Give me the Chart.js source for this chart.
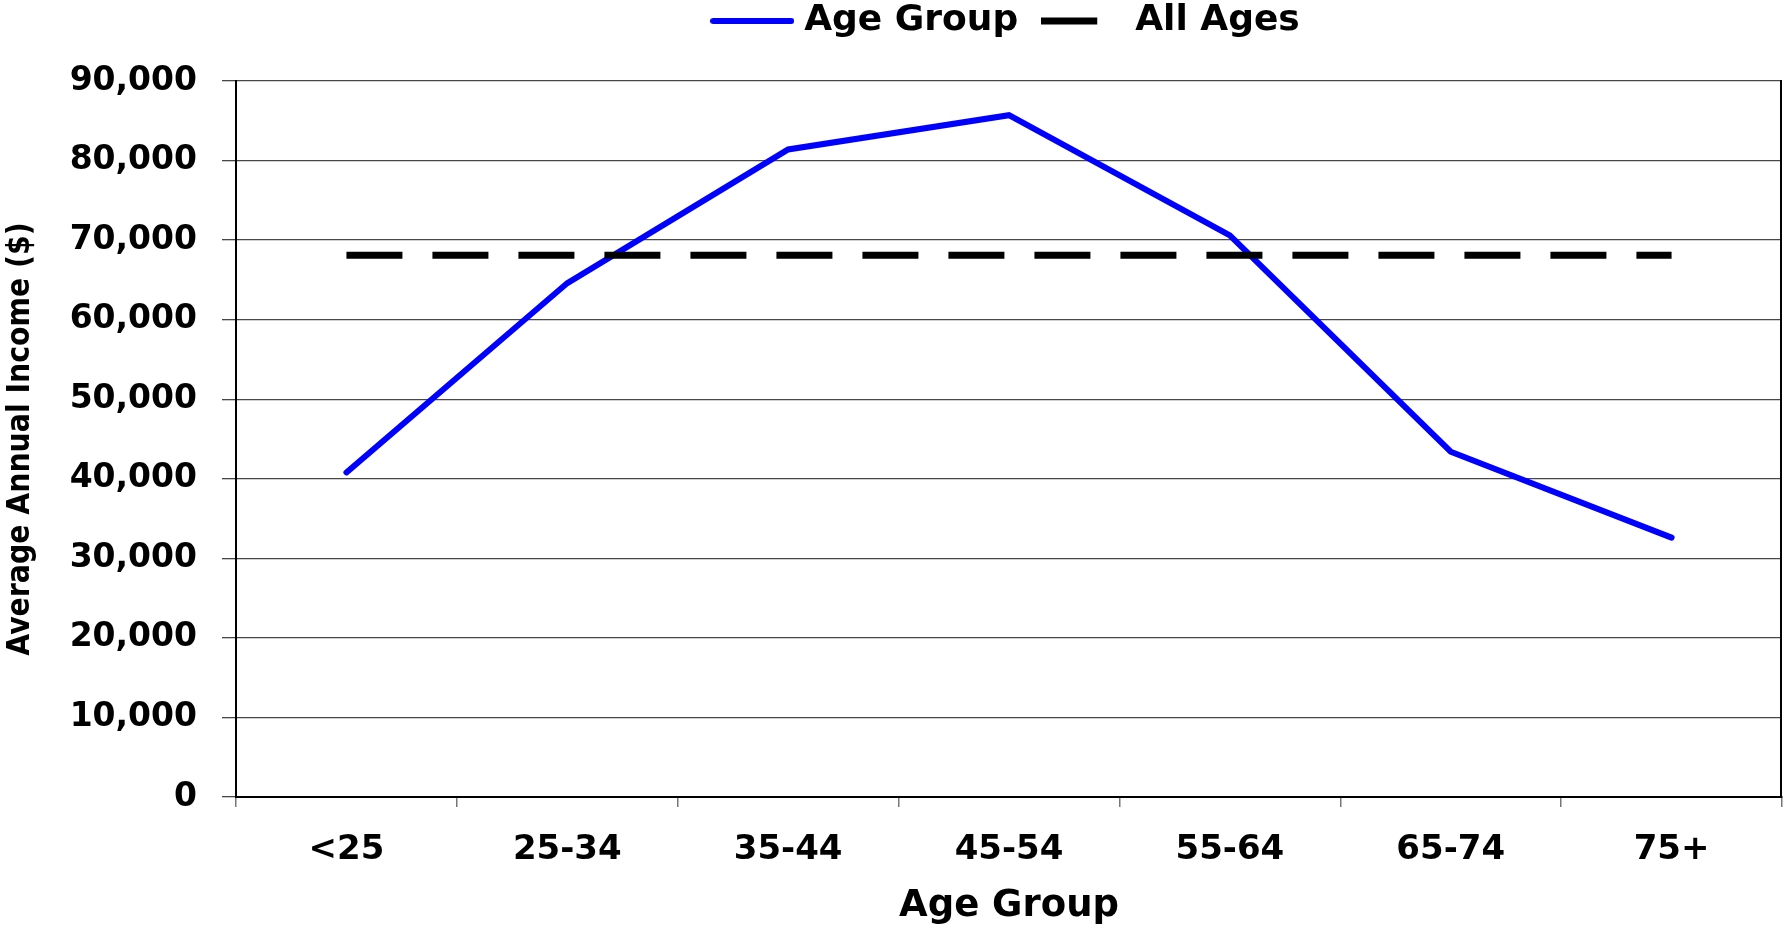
<!DOCTYPE html>
<html>
<head>
<meta charset="utf-8">
<title>Average Annual Income by Age Group</title>
<script src="https://cdn.jsdelivr.net/npm/chart.js@4.4.1/dist/chart.umd.min.js"></script>
<style>
  html, body { margin: 0; padding: 0; background: #ffffff; }
  canvas { display: block; }
</style>
</head>
<body>
<canvas id="incomeChart" width="1786" height="930"></canvas>
<script>
// Age brackets along the x axis
const categories = ['<25', '25-34', '35-44', '45-54', '55-64', '65-74', '75+'];

// Average annual income ($) for each age bracket
const ageGroupIncome = [40800, 64600, 81400, 85700, 70600, 43400, 32600];

// Average annual income ($) across all ages, repeated per bracket
const allAgesIncome = [68100, 68100, 68100, 68100, 68100, 68100, 68100];

// Y axis tick labels
const yTickLabels = ['0', '10,000', '20,000', '30,000', '40,000', '50,000',
                     '60,000', '70,000', '80,000', '90,000'];

const FONT_FAMILY = "'DejaVu Sans', 'Liberation Sans', sans-serif";
const NARROW_FAMILY = "'DejaVu Sans Condensed', 'Liberation Sans Narrow', 'DejaVu Sans', sans-serif";
const GRID_COLOR = '#474747';
const LEGEND_HEIGHT = 109;
const AGE_DASH = [56, 30];

// Small line swatches used as legend markers (solid blue, dashed black)
function lineSwatch(color, lineWidth, dash, cap) {
  const c = document.createElement('canvas');
  c.width = 84;
  c.height = 10;
  const g = c.getContext('2d');
  const inset = cap === 'round' ? lineWidth / 2 : 0;
  g.strokeStyle = color;
  g.lineWidth = lineWidth;
  g.lineCap = cap;
  g.setLineDash(dash);
  g.beginPath();
  g.moveTo(inset, 5);
  g.lineTo(c.width - inset, 5);
  g.stroke();
  return c;
}

// Fixed legend band height plus a closing frame line on the right of the plot
const plotFrame = {
  id: 'plotFrame',
  beforeInit(chart) {
    const legend = chart.legend;
    if (legend) {
      const fit = legend.fit;
      legend.fit = function () {
        fit.call(this);
        this.height = LEGEND_HEIGHT;
      };
    }
  },
  afterDraw(chart) {
    const { ctx, chartArea } = chart;
    ctx.save();
    ctx.strokeStyle = '#000000';
    ctx.lineWidth = 2;
    ctx.beginPath();
    ctx.moveTo(chartArea.right - 1, chartArea.top - 1);
    ctx.lineTo(chartArea.right - 1, chartArea.bottom + 1);
    ctx.stroke();
    ctx.restore();
  }
};

new Chart(document.getElementById('incomeChart'), {
  type: 'line',
  data: {
    labels: categories,
    datasets: [
      {
        label: 'Age Group',
        data: ageGroupIncome,
        borderColor: '#0000ff',
        backgroundColor: '#0000ff',
        borderWidth: 6,
        borderCapStyle: 'round',
        borderJoinStyle: 'miter',
        pointStyle: lineSwatch('#0000ff', 6, [], 'round'),
        pointRadius: 0,
        pointHoverRadius: 0,
        tension: 0,
        fill: false,
        order: 1
      },
      {
        label: 'All Ages',
        data: allAgesIncome,
        borderColor: '#000000',
        backgroundColor: '#000000',
        borderWidth: 7,
        borderDash: AGE_DASH,
        borderCapStyle: 'butt',
        pointStyle: lineSwatch('#000000', 7, AGE_DASH, 'butt'),
        pointRadius: 0,
        pointHoverRadius: 0,
        tension: 0,
        fill: false,
        order: 0
      }
    ]
  },
  options: {
    responsive: false,
    animation: false,
    devicePixelRatio: 1,
    layout: { padding: { top: -28, right: 4, bottom: 0, left: 0 } },
    plugins: {
      tooltip: { enabled: false },
      legend: {
        display: true,
        position: 'top',
        align: 'center',
        fullSize: false,
        labels: {
          usePointStyle: true,
          pointStyleWidth: 68,
          padding: 31,
          color: '#000000',
          font: { family: FONT_FAMILY, size: 36, weight: 'bold' },
          sort: (a, b) => a.datasetIndex - b.datasetIndex
        }
      }
    },
    scales: {
      x: {
        type: 'category',
        offset: true,
        afterFit(scale) { scale.height = 133; },
        grid: {
          display: true,
          offset: true,
          drawOnChartArea: false,
          drawTicks: true,
          tickLength: 10,
          color: '#777777',
          lineWidth: 1.5
        },
        border: { display: true, color: '#000000', width: 2 },
        ticks: {
          color: '#000000',
          padding: 23,
          maxRotation: 0,
          autoSkip: false,
          font: { family: FONT_FAMILY, size: 34, weight: 'bold' }
        },
        title: {
          display: true,
          text: 'Age Group',
          color: '#000000',
          padding: { top: 0, bottom: 1 },
          font: { family: FONT_FAMILY, size: 37, weight: 'bold' }
        }
      },
      y: {
        min: 0,
        max: 90000,
        afterFit(scale) { scale.width = 236; },
        grid: {
          display: true,
          drawOnChartArea: true,
          drawTicks: true,
          tickLength: 14,
          color: GRID_COLOR,
          lineWidth: 1.3
        },
        border: { display: true, color: '#000000', width: 2 },
        ticks: {
          stepSize: 10000,
          color: '#000000',
          padding: 25,
          font: { family: FONT_FAMILY, size: 33, weight: 'bold' },
          callback: (value, index) => yTickLabels[index]
        },
        title: {
          display: true,
          text: 'Average Annual Income ($)',
          color: '#000000',
          padding: { top: 2, bottom: 0 },
          font: { family: NARROW_FAMILY, size: 31.5, weight: 'bold' }
        }
      }
    }
  },
  plugins: [plotFrame]
});
</script>
</body>
</html>
